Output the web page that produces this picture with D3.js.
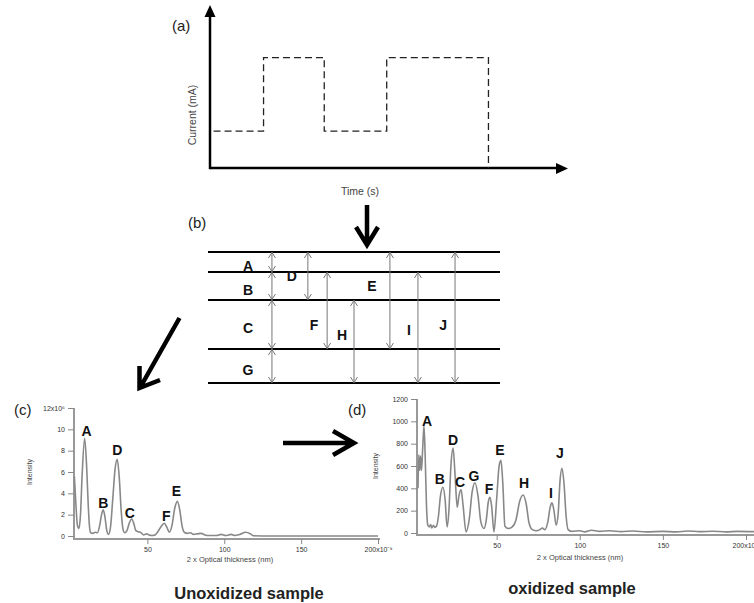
<!DOCTYPE html>
<html>
<head>
<meta charset="utf-8">
<script src="https://cdn.jsdelivr.net/npm/d3@7.9.0/dist/d3.min.js"></script>
<style>
  body { margin: 0; background: #fff; }
  svg { display: block; }
  text { font-family: "Liberation Sans", Arial, sans-serif; }
</style>
</head>
<body>
<div id="chart"></div>
<script>
// ---- (a) current waveform (schematic units) ----
const pulseTimes = [0.1, 1.5, 3.2, 4.95, 7.8];
const pulseLevels = [2.3, 6.9, 2.3, 6.9, 0];

// ---- (b) layer stack ----
const layerNames = ["A", "B", "C", "G"];
const boundaryDepths = [0, 1, 2.4, 4.85, 6.55];
const reflectionNames = ["D", "F", "H", "E", "I", "J"];
const reflectionFrom = [0, 1, 2, 0, 1, 0];
const reflectionTo = [2, 3, 4, 3, 4, 4];
const reflectionColumn = [3.42, 4.08, 5.0, 6.23, 7.19, 8.46];
const layerColumn = 2.19;

// ---- (c) unoxidized spectrum (x: nm, y: 10^6) ----
const cThickness = [2.5, 3.5, 4.5, 5.5, 6.5, 7.5, 9.2, 10.5, 11.5, 12.3, 13.1, 14.5, 16, 17.5, 19, 20.2, 21.3, 22.4, 23.5, 24.7,
  26, 27.5, 29, 30.4, 31.7, 33, 34.2, 35.3, 36.7, 38.2, 39.8, 41.3, 42.5, 44, 46, 47.5, 49.5, 51, 53, 55,
  57, 59, 61, 62.7, 64.3, 66, 67.8, 69.5, 71, 72.5, 74, 76, 78, 80, 82.5, 85, 87.5, 90, 95, 98,
  101, 104.5, 107, 110, 114, 117, 119, 130, 200];
const cIntensity = [5.6, 3.0, 1.0, 0.7, 2.0, 5.5, 9.15, 6.5, 3.0, 1.0, 0.3, 0.25, 0.35, 0.3, 1.0, 2.0, 2.45, 1.8, 0.6, 0.15,
  0.8, 3.5, 6.3, 7.2, 5.5, 2.3, 0.6, 0.3, 0.5, 1.2, 1.6, 1.1, 0.5, 0.4, 0.3, 0.1, 0.2, 0.1, 0.05, 0.1,
  0.45, 0.9, 1.2, 0.8, 0.35, 1.0, 2.6, 3.25, 2.5, 1.0, 0.35, 0.25, 0.3, 0.15, 0.2, 0.25, 0.1, 0.05, 0.05, 0.15,
  0.05, 0.15, 0.05, 0.15, 0.35, 0.2, 0.02, 0, 0];
const cPeakNames = ["A", "B", "D", "C", "F", "E"];
const cPeakThickness = [9.2, 21.3, 30.4, 39.8, 61, 69.5];
const cPeakIntensity = [9.15, 2.45, 7.2, 1.6, 1.2, 3.25];
const cYTicks = [0, 2, 4, 6, 8, 10, 12];

// ---- (d) oxidized spectrum (x: nm, y: counts) ----
const dThickness = [2.7, 3.2, 3.7, 4.2, 4.8, 5.5, 6.3, 7.0, 7.8, 8.6, 9.5, 10.3, 11, 12, 12.8, 13.8, 15, 16.2, 17.7, 19.0,
  20.2, 21.3, 22.5, 23.8, 25.0, 26.3, 27.3, 28.6, 29.8, 31.6, 33.5, 35.3, 37, 38.8, 40.5, 42.4, 43.8, 45, 46, 47,
  48.4, 50, 51.5, 52.6, 53.7, 55, 57, 59, 61.5, 64, 65.9, 67.8, 69.5, 71.5, 74, 76, 77.5, 79, 80.8, 82.2,
  83.3, 84.5, 85.8, 87, 88.2, 89.3, 90.5, 91.8, 93, 95, 100, 103, 107, 112, 118, 125, 132, 140, 150, 158,
  165, 172, 180, 188, 195, 205];
const dIntensity = [400, 700, 560, 690, 560, 750, 960, 700, 250, 70, 55, 75, 45, 70, 50, 60, 150, 330, 410, 300,
  55, 200, 600, 760, 520, 230, 330, 390, 250, 10, 120, 370, 450, 330, 100, 40, 120, 280, 320, 240,
  10, 300, 600, 650, 450, 60, 40, 50, 110, 290, 340, 260, 90, 30, 20, 30, 45, 30, 100, 230,
  270, 200, 70, 170, 480, 580, 450, 150, 30, 15, 20, 10, 25, 15, 20, 12, 18, 10, 15, 10,
  18, 12, 16, 10, 15, 12];
const dPeakNames = ["A", "B", "D", "C", "G", "F", "E", "H", "I", "J"];
const dPeakThickness = [6.3, 17.7, 23.8, 28.6, 37, 46, 52.6, 65.9, 83.3, 89.3];
const dPeakIntensity = [960, 410, 760, 390, 450, 320, 650, 340, 270, 580];
const dYTicks = [0, 200, 400, 600, 800, 1000, 1200];

const xTicks = [50, 100, 150, 200];

// ---- layout nudges for labels (px) ----
const cLabelNudge = [[2, -7], [0, -7], [0, -9], [-2, -6], [2, -7], [-1, -10]];
const dLabelNudge = [[3, -5], [-3, -8], [0, -8], [-1, -7], [-1, -7], [-1, -8], [-1, -10], [1, -12], [-1, -10], [-2, -15]];
const reflectionLabelOffset = [[-16, 0], [-13, 15], [-12, -6], [-18, -14], [-9, 3], [-12, 8]];

const width = 754, height = 603;
const svg = d3.select("#chart").append("svg")
  .attr("width", width)
  .attr("height", height)
  .attr("viewBox", `0 0 ${width} ${height}`);

svg.append("rect").attr("width", width).attr("height", height).attr("fill", "#fff");

// ================= (a) =================
const ax = d3.scaleLinear().domain([0, 10]).range([210, 567]);
const ay = d3.scaleLinear().domain([0, 10]).range([168, 8]);
const ga = svg.append("g");

ga.append("line").attr("x1", ax(0)).attr("y1", ay(0)).attr("x2", 557).attr("y2", ay(0))
  .attr("stroke", "#000").attr("stroke-width", 2.5);
ga.append("path").attr("d", `M556,163 L568,168.5 L556,174 Z`).attr("fill", "#000");
ga.append("line").attr("x1", ax(0)).attr("y1", ay(0) + 1.2).attr("x2", ax(0)).attr("y2", 16)
  .attr("stroke", "#000").attr("stroke-width", 2.5);
ga.append("path").attr("d", `M204.5,17 L210,5 L215.5,17 Z`).attr("fill", "#000");

const pulseLine = d3.line()
  .curve(d3.curveStepAfter)
  .x((d, i) => ax(pulseTimes[i]))
  .y(d => ay(d));
ga.append("path")
  .datum(pulseLevels)
  .attr("d", pulseLine)
  .attr("fill", "none")
  .attr("stroke", "#222")
  .attr("stroke-width", 1.3)
  .attr("stroke-dasharray", "7,4");

ga.append("text").attr("x", 172).attr("y", 31).attr("font-size", 15).attr("fill", "#222").text("(a)");
ga.append("text")
  .attr("transform", "translate(196,115) rotate(-90)")
  .attr("text-anchor", "middle")
  .attr("font-size", 10.5).attr("fill", "#444")
  .text("Current (mA)");
ga.append("text").attr("x", 360).attr("y", 195).attr("text-anchor", "middle")
  .attr("font-size", 10.5).attr("fill", "#444").text("Time (s)");

// ================= (b) =================
const bx = d3.scaleLinear().domain([0, 10]).range([208, 500]);
const by = d3.scaleLinear().domain([0, 6.55]).range([252, 383]);
const gb = svg.append("g");

gb.append("text").attr("x", 188).attr("y", 228).attr("font-size", 15).attr("fill", "#222").text("(b)");

gb.selectAll("line.boundary")
  .data(boundaryDepths)
  .join("line")
  .attr("class", "boundary")
  .attr("x1", bx(0)).attr("x2", bx(10))
  .attr("y1", d => by(d)).attr("y2", d => by(d))
  .attr("stroke", "#000").attr("stroke-width", 2);

function doubleArrow(g, x, y1, y2) {
  g.append("line").attr("x1", x).attr("x2", x).attr("y1", y1).attr("y2", y2)
    .attr("stroke", "#777").attr("stroke-width", 1);
  g.append("path")
    .attr("d", `M${x - 3.5},${y1 + 6} L${x},${y1 + 0.5} L${x + 3.5},${y1 + 6} M${x - 3.5},${y2 - 6} L${x},${y2 - 0.5} L${x + 3.5},${y2 - 6}`)
    .attr("fill", "none").attr("stroke", "#777").attr("stroke-width", 1);
}

layerNames.forEach((name, i) => {
  doubleArrow(gb, bx(layerColumn), by(boundaryDepths[i]), by(boundaryDepths[i + 1]));
  gb.append("text")
    .attr("x", 248).attr("y", (by(boundaryDepths[i]) + by(boundaryDepths[i + 1])) / 2 + 4)
    .attr("dy", "0.35em")
    .attr("text-anchor", "middle")
    .attr("font-size", 14).attr("font-weight", "bold").attr("fill", "#111")
    .text(name);
});

reflectionNames.forEach((name, i) => {
  const x = bx(reflectionColumn[i]);
  const y1 = by(boundaryDepths[reflectionFrom[i]]);
  const y2 = by(boundaryDepths[reflectionTo[i]]);
  doubleArrow(gb, x, y1, y2);
  const [ox, oy] = reflectionLabelOffset[i];
  gb.append("text")
    .attr("x", x + ox).attr("y", (y1 + y2) / 2 + oy)
    .attr("dy", "0.35em")
    .attr("text-anchor", "middle")
    .attr("font-size", 14).attr("font-weight", "bold").attr("fill", "#111")
    .text(name);
});

// big arrows
const bigArrows = svg.append("g").attr("fill", "none").attr("stroke", "#000").attr("stroke-width", 4.5);
bigArrows.append("path").attr("d", "M367,205 L367,244 M356,227 L367,245 L378,227");
bigArrows.append("path").attr("d", "M179.5,318 L141,386 M139.5,366 L139.5,388 L160,380")
  .attr("stroke-linejoin", "miter");
bigArrows.append("path").attr("d", "M283,443 L353,443 M333,431 L354,443 L333,455");

// ================= spectra =================
function styleAxis(g) {
  g.select(".domain").remove();
  g.selectAll(".tick line").attr("stroke", "#888").attr("stroke-width", 1);
  g.selectAll(".tick text")
    .attr("fill", "#333")
    .attr("font-size", 7)
    .attr("font-family", "'Liberation Sans', Arial, sans-serif");
}

function spectrum(opts) {
  const g = svg.append("g");
  const x = d3.scaleLinear().domain([0, 200]).range(opts.xRange);
  const y = d3.scaleLinear().domain(opts.yDomain).range(opts.yRange);

  // axes lines
  g.append("line")
    .attr("x1", opts.axisX).attr("x2", opts.axisXEnd)
    .attr("y1", opts.axisY).attr("y2", opts.axisY)
    .attr("stroke", "#999").attr("stroke-width", 2);
  g.append("line")
    .attr("x1", opts.axisX).attr("x2", opts.axisX)
    .attr("y1", y(opts.yDomain[1])).attr("y2", opts.axisY + 1)
    .attr("stroke", "#999").attr("stroke-width", 2);

  g.append("g")
    .attr("transform", `translate(0,${opts.axisY})`)
    .call(d3.axisBottom(x).tickValues(xTicks).tickSize(5).tickPadding(3)
      .tickFormat(d => d === 200 ? "200x10⁻⁹" : d))
    .call(styleAxis);

  g.append("g")
    .attr("transform", `translate(${opts.axisX},0)`)
    .call(d3.axisLeft(y).tickValues(opts.yTicks).tickSize(6).tickPadding(3)
      .tickFormat(opts.yFormat))
    .call(styleAxis);

  const line = d3.line()
    .curve(d3.curveMonotoneX)
    .x((d, i) => x(opts.xs[i]))
    .y(d => y(d));

  g.append("path")
    .datum(opts.ys)
    .attr("d", line)
    .attr("fill", "none")
    .attr("stroke", "#888")
    .attr("stroke-width", 1.6)
    .attr("stroke-linejoin", "round");

  opts.peakNames.forEach((name, i) => {
    const [nx, ny] = opts.nudge[i];
    g.append("text")
      .attr("x", x(opts.peakX[i]) + nx)
      .attr("y", y(opts.peakY[i]) + ny)
      .attr("dy", "0.35em")
      .attr("text-anchor", "middle")
      .attr("font-size", 14).attr("font-weight", "bold").attr("fill", "#111")
      .text(name);
  });

  g.append("text")
    .attr("transform", `translate(${opts.yTitleX},${opts.yTitleY}) rotate(-90)`)
    .attr("text-anchor", "middle")
    .attr("font-size", 7).attr("fill", "#444")
    .text("Intensity");

  g.append("text")
    .attr("x", opts.xTitleX).attr("y", opts.xTitleY)
    .attr("text-anchor", "middle")
    .attr("font-size", 7.5).attr("fill", "#444")
    .text("2 x Optical thickness (nm)");

  g.append("text")
    .attr("x", opts.panelX).attr("y", 415)
    .attr("font-size", 15).attr("fill", "#222")
    .text(opts.panel);

  g.append("text")
    .attr("x", opts.captionX).attr("y", opts.captionY)
    .attr("text-anchor", "middle")
    .attr("font-size", 16.5).attr("font-weight", "bold").attr("fill", "#222")
    .text(opts.caption);
}

spectrum({
  xRange: [70.5, 378], yDomain: [0, 12], yRange: [536, 408],
  axisX: 74, axisXEnd: 380, axisY: 539,
  yTicks: cYTicks, yFormat: d => d === 12 ? "12x10⁶" : d,
  xs: cThickness, ys: cIntensity,
  peakNames: cPeakNames, peakX: cPeakThickness, peakY: cPeakIntensity, nudge: cLabelNudge,
  yTitleX: 32, yTitleY: 472, xTitleX: 230, xTitleY: 562,
  panel: "(c)", panelX: 14, caption: "Unoxidized sample", captionX: 249, captionY: 599
});

spectrum({
  xRange: [413.5, 746], yDomain: [0, 1200], yRange: [533, 399],
  axisX: 417, axisXEnd: 754, axisY: 535,
  yTicks: dYTicks, yFormat: d => d,
  xs: dThickness, ys: dIntensity,
  peakNames: dPeakNames, peakX: dPeakThickness, peakY: dPeakIntensity, nudge: dLabelNudge,
  yTitleX: 378, yTitleY: 466, xTitleX: 580, xTitleY: 560,
  panel: "(d)", panelX: 348, caption: "oxidized sample", captionX: 572, captionY: 594
});
</script>
</body>
</html>
